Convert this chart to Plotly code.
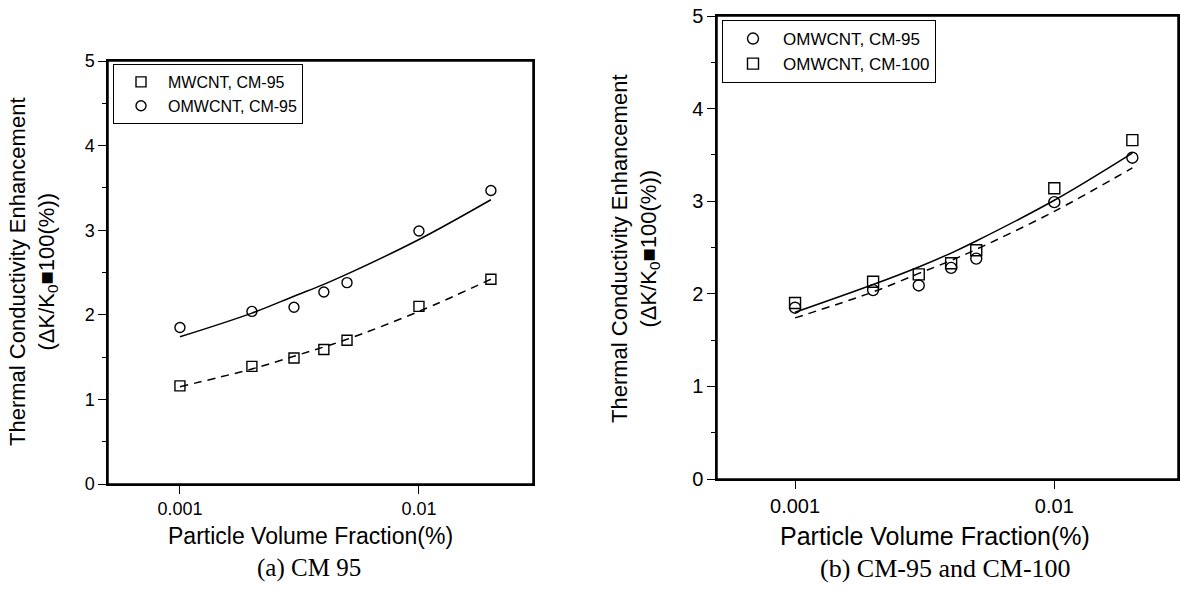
import math
import plotly.graph_objects as go

# ---------------- data ----------------
phi = [0.001, 0.002, 0.003, 0.004, 0.005, 0.01, 0.02]

# panel (a) CM 95
a_mwcnt_cm95 = [1.16, 1.39, 1.49, 1.59, 1.70, 2.10, 2.42]
a_omwcnt_cm95 = [1.85, 2.04, 2.09, 2.27, 2.38, 2.99, 3.47]
a_fit_mwcnt = [1.15, 1.36, 1.51, 1.62, 1.71, 2.04, 2.42]
a_fit_omwcnt = [1.74, 2.02, 2.22, 2.36, 2.48, 2.89, 3.36]

# panel (b) CM-95 and CM-100
b_omwcnt_cm95 = [1.85, 2.04, 2.09, 2.28, 2.38, 2.99, 3.47]
b_omwcnt_cm100 = [1.90, 2.13, 2.21, 2.33, 2.47, 3.14, 3.66]
b_fit_cm100 = [1.80, 2.10, 2.29, 2.44, 2.57, 3.01, 3.52]
b_fit_cm95 = [1.74, 2.02, 2.22, 2.36, 2.48, 2.89, 3.36]

x_tickvals = [0.001, 0.01]
x_ticktext = ["0.001", "0.01"]
x_minor = [0.0006, 0.0007, 0.0008, 0.0009, 0.002, 0.003, 0.004, 0.005,
           0.006, 0.007, 0.008, 0.009, 0.02, 0.03]
y_tickvals = [0, 1, 2, 3, 4, 5]

y_title = "Thermal Conductivity Enhancement<br>(ΔK/K<sub>0</sub>■100(%))"
x_title = "Particle Volume Fraction(%)"
cap_a = "(a) CM 95"
cap_b = "(b) CM-95 and CM-100"

# ---------------- figure ----------------
W, H = 1180, 591
SANS = "Arial, Liberation Sans, sans-serif"
SERIF = "Times New Roman, Liberation Serif, serif"

fig = go.Figure()

# panel a
fig.add_trace(go.Scatter(x=phi, y=a_fit_omwcnt, mode="lines", line=dict(color="black", width=1.5, shape="spline"),
                         showlegend=False, xaxis="x", yaxis="y"))
fig.add_trace(go.Scatter(x=phi, y=a_fit_mwcnt, mode="lines",
                         line=dict(color="black", width=1.5, dash="8px,6px", shape="spline"),
                         showlegend=False, xaxis="x", yaxis="y"))
fig.add_trace(go.Scatter(x=phi, y=a_mwcnt_cm95, mode="markers", name="MWCNT, CM-95",
                         marker=dict(symbol="square-open", size=10, color="black", line=dict(width=1.4)),
                         xaxis="x", yaxis="y", legend="legend"))
fig.add_trace(go.Scatter(x=phi, y=a_omwcnt_cm95, mode="markers", name="OMWCNT, CM-95",
                         marker=dict(symbol="circle-open", size=10, color="black", line=dict(width=1.4)),
                         xaxis="x", yaxis="y", legend="legend"))

# panel b
fig.add_trace(go.Scatter(x=phi, y=b_fit_cm100, mode="lines", line=dict(color="black", width=1.5, shape="spline"),
                         showlegend=False, xaxis="x2", yaxis="y2"))
fig.add_trace(go.Scatter(x=phi, y=b_fit_cm95, mode="lines",
                         line=dict(color="black", width=1.5, dash="8px,6px", shape="spline"),
                         showlegend=False, xaxis="x2", yaxis="y2"))
fig.add_trace(go.Scatter(x=phi, y=b_omwcnt_cm95, mode="markers", name="OMWCNT, CM-95",
                         marker=dict(symbol="circle-open", size=11, color="black", line=dict(width=1.4)),
                         xaxis="x2", yaxis="y2", legend="legend2"))
fig.add_trace(go.Scatter(x=phi, y=b_omwcnt_cm100, mode="markers", name="OMWCNT, CM-100",
                         marker=dict(symbol="square-open", size=11, color="black", line=dict(width=1.4)),
                         xaxis="x2", yaxis="y2", legend="legend2"))


def px(x):
    return x / W


def py(y):
    return 1 - y / H


xrange = [math.log10(0.0005), math.log10(0.03)]


def xaxis(domain, anchor, fs):
    return dict(domain=domain, anchor=anchor, type="log", range=xrange, tickvals=x_tickvals,
                ticktext=x_ticktext, tickmode="array",
                ticks="outside", ticklen=8, tickwidth=1.2, tickcolor="black",
                showline=True, linecolor="black", linewidth=1.5, mirror=True,
                showgrid=False, zeroline=False, tickfont=dict(family=SANS, size=fs, color="black"))


def xminor(domain, anchor, over):
    # overlay axis carrying only the short minor ticks
    return dict(domain=domain, anchor=anchor, overlaying=over, type="log", range=xrange,
                tickvals=x_minor, tickmode="array", showticklabels=False,
                ticks="outside", ticklen=4, tickwidth=1.2, tickcolor="black",
                showline=False, showgrid=False, zeroline=False)


def yaxis(domain, anchor, fs):
    return dict(domain=domain, anchor=anchor, range=[0, 5], tickvals=y_tickvals, tickmode="array",
                ticks="outside", ticklen=8, tickwidth=1.2, tickcolor="black",
                showline=True, linecolor="black", linewidth=1.5, mirror=True,
                showgrid=False, zeroline=False, tickfont=dict(family=SANS, size=fs, color="black"),
                minor=dict(dtick=0.5, ticks="outside", ticklen=4, tickwidth=1.2,
                           tickcolor="black", showgrid=False))


dom_a = [px(108), px(533)]
dom_b = [px(717), px(1178)]

fig.update_layout(
    template="none",
    width=W, height=H,
    margin=dict(l=0, r=0, t=0, b=0),
    paper_bgcolor="white", plot_bgcolor="white",
    xaxis=xaxis(dom_a, "y", 18),
    yaxis=yaxis([py(484), py(61)], "x", 18),
    xaxis2=xaxis(dom_b, "y2", 20),
    yaxis2=yaxis([py(479), py(16)], "x2", 20),
    xaxis3=xminor(dom_a, "y", "x"),
    xaxis4=xminor(dom_b, "y2", "x2"),
    legend=dict(x=px(113), y=py(64), xanchor="left", yanchor="top",
                bordercolor="black", borderwidth=1, bgcolor="white", itemwidth=44,
                font=dict(family=SANS, size=16, color="black"), tracegroupgap=0),
    legend2=dict(x=px(722), y=py(20), xanchor="left", yanchor="top",
                 bordercolor="black", borderwidth=1, bgcolor="white", itemwidth=50,
                 font=dict(family=SANS, size=17, color="black"), tracegroupgap=0),
    showlegend=True,
)

# plot frames (full box round each panel)
for xr, yr in (("x domain", "y domain"), ("x2 domain", "y2 domain")):
    fig.add_shape(type="rect", xref=xr, yref=yr, x0=0, x1=1, y0=0, y1=1,
                  line=dict(color="black", width=1.5), fillcolor="rgba(0,0,0,0)", layer="above")

annots = [
    dict(x=px(33), y=py(272), text=y_title, textangle=-90, font=dict(family=SANS, size=22)),
    dict(x=px(635), y=py(249), text=y_title, textangle=-90, font=dict(family=SANS, size=22)),
    dict(x=px(310), y=py(536), text=x_title, font=dict(family=SANS, size=23)),
    dict(x=px(935), y=py(536), text=x_title, font=dict(family=SANS, size=25)),
    dict(x=px(309), y=py(568), text=cap_a, font=dict(family=SERIF, size=25)),
    dict(x=px(945), y=py(568), text=cap_b, font=dict(family=SERIF, size=26)),
]
for a in annots:
    a.update(xref="paper", yref="paper", showarrow=False, xanchor="center", yanchor="middle")
    a["font"]["color"] = "black"
fig.update_layout(annotations=annots)

fig.write_html("out.html")
